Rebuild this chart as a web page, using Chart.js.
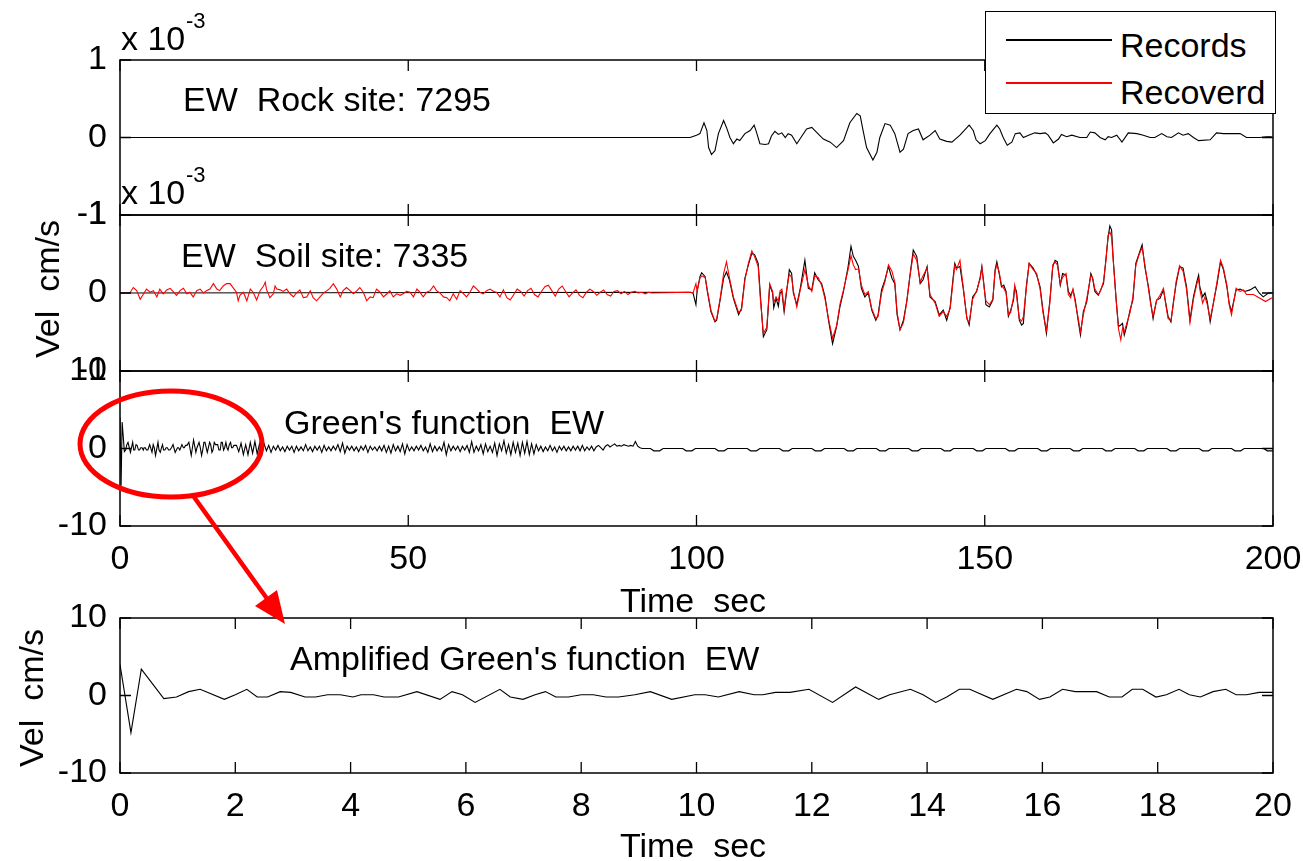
<!DOCTYPE html>
<html lang="en">
<head>
  <meta charset="UTF-8">
  <title>Green's function EW</title>
  <script src="https://cdn.jsdelivr.net/npm/chart.js"></script>
  <style>
    * { box-sizing: border-box; }
    body { margin: 0; background: #fff; width: 1303px; height: 861px; overflow: hidden; position: relative; font-family: 'Liberation Sans', Arial, sans-serif; color: #000; }
    canvas { position: absolute; left: 0; top: 0; }
    .txt { position: absolute; font-size: 34px; line-height: 1; white-space: pre; transform: translateY(-50%); }
    .sup { position: absolute; font-size: 22px; line-height: 1; white-space: pre; transform: translateY(-50%); }
    .rot { position: absolute; font-size: 34px; line-height: 1; white-space: pre; transform: translate(-50%, -50%) rotate(-90deg); }
    .ctr { position: absolute; font-size: 34px; line-height: 1; white-space: pre; transform: translate(-50%, -50%); }
    #legend { position: absolute; left: 985px; top: 11px; width: 291px; height: 103px; border: 1.5px solid #000; background: #fff; }
    #legend .swatch { position: absolute; left: 20px; width: 106px; height: 2px; }
    #legend .lab { position: absolute; left: 134px; font-size: 34px; line-height: 1; transform: translateY(-50%); }
    svg { position: absolute; left: 0; top: 0; }
  </style>
</head>
<body>
  <canvas id="p1" width="1303" height="861"></canvas>
  <canvas id="p2" width="1303" height="861"></canvas>
  <canvas id="p3" width="1303" height="861"></canvas>
  <canvas id="p4" width="1303" height="861"></canvas>

  <div class="txt" style="left:121px;top:38px">x 10</div><div class="sup" style="left:186px;top:21px">-3</div>
  <div class="txt" style="left:121px;top:192px">x 10</div><div class="sup" style="left:186px;top:175px">-3</div>
  <div class="txt" style="left:183px;top:99px">EW  Rock site: 7295</div>
  <div class="txt" style="left:181px;top:255px">EW  Soil site: 7335</div>
  <div class="txt" style="left:284px;top:422px">Green's function  EW</div>
  <div class="txt" style="left:290px;top:658px">Amplified Green's function  EW</div>
  <div class="rot" style="left:47px;top:289px">Vel  cm/s</div>
  <div class="rot" style="left:31px;top:698px">Vel  cm/s</div>
  <div class="ctr" style="left:693px;top:600px">Time  sec</div>
  <div class="ctr" style="left:693px;top:845px">Time  sec</div>
  <div id="legend"></div>

  <svg width="1303" height="861">
    <ellipse cx="171" cy="444" rx="91" ry="53" fill="none" stroke="#f00" stroke-width="5"/>
    <line x1="194" y1="497" x2="268" y2="600" stroke="#f00" stroke-width="4.5"/>
    <polygon points="285,624 255,606 277,590" fill="#f00"/>
  </svg>

  <script>
    // values: [time sec, velocity]
    // panel 1, rock site records (x 10^-3 cm/s)
    const rockRecords = [[0,0],[98.9,0],[100.0,0.03],[100.6,0.05],[101.3,0.19],[101.8,0.09],[102.1,-0.13],[102.6,-0.22],[103.2,-0.17],[103.8,0.05],[104.7,0.22],[105.2,0.13],[105.8,0.0],[106.4,-0.08],[107.0,-0.02],[107.5,-0.04],[108.4,0.05],[109.3,0.09],[110.0,0.16],[110.4,0.07],[111.0,-0.08],[111.9,-0.09],[112.5,-0.08],[113.0,0.02],[113.6,0.08],[114.2,0.04],[114.8,0.06],[115.4,0.0],[115.9,0.05],[116.5,0.03],[117.4,-0.08],[118.2,0.01],[119.1,0.11],[120.0,0.13],[120.8,0.07],[122.0,-0.02],[123.2,-0.06],[124.3,-0.13],[125.5,-0.04],[126.6,0.19],[127.8,0.31],[128.4,0.28],[128.9,0.09],[129.5,-0.13],[130.6,-0.29],[131.3,-0.19],[131.8,0.0],[132.7,0.18],[133.6,0.16],[134.4,0.05],[135.3,-0.19],[135.9,-0.15],[136.7,0.05],[137.6,0.09],[138.5,0.11],[139.3,-0.03],[140.5,0.03],[141.4,0.09],[142.2,-0.02],[143.4,-0.05],[144.3,-0.06],[145.7,0.03],[147.3,0.16],[148.0,0.09],[148.5,-0.03],
      [149.2,-0.08],[150.1,-0.04],[150.9,0.05],[152.1,0.16],[152.6,0.11],[153.2,0.0],[153.9,-0.1],[154.7,-0.06],[155.3,0.05],[156.1,0.06],[156.7,0.0],[157.6,0.03],[158.7,0.06],[159.6,0.05],[160.5,0.06],[161.0,0.03],[161.9,-0.07],[162.8,-0.02],[163.3,0.04],[164.2,0.01],[165.1,0.03],[166.5,0.0],[167.7,0.0],[168.3,0.07],[169.1,0.06],[170.0,0.0],[170.9,-0.03],[171.4,0.01],[172.0,0.0],[172.9,0.03],[173.8,-0.06],[174.9,0.06],[176.4,0.05],[177.5,0.03],[178.7,0.0],[179.5,0.0],[180.7,0.05],[181.6,0.01],[182.4,0.0],[183.6,0.06],[184.4,0.03],[185.3,0.05],[186.2,0.0],[187.1,-0.04],[189.1,-0.03],[190.2,0.06],[191.4,0.05],[194.3,0.05],[195.4,0.0],[197.7,0.0],[198.9,0.01],[199.8,0.01]];

    // panel 2, soil site records (x 10^-3 cm/s)
    const soilRecords = [[0,0],[98.9,0.01],[99.4,0],[99.9,-0.15],[100.1,0.02],[100.6,0.21],[100.9,0.26],[101.5,0.21],[101.9,0.01],[102.5,-0.24],[103.2,-0.37],[103.5,-0.35],[104.1,-0.09],[104.7,0.19],[105.2,0.27],[105.7,0.17],[106.4,-0.07],[107.3,-0.28],[107.8,-0.2],[108.4,0.19],[109.0,0.36],[109.6,0.51],[110.1,0.49],[110.7,0.38],[111.1,-0.05],[111.6,-0.56],[112.2,-0.47],[112.7,0.1],[113.2,0.0],[113.4,-0.19],[113.8,-0.07],[114.2,-0.17],[114.5,0.0],[114.8,0.02],[115.2,-0.24],[115.6,0.0],[116.1,0.3],[116.5,0.25],[116.8,0.0],[117.4,-0.15],[118.0,0.06],[118.8,0.42],[119.4,0.06],[120.0,0.04],[120.5,0.26],[121.1,0.17],[121.7,0.12],[122.3,-0.05],[122.9,-0.35],[123.6,-0.65],[124.3,-0.43],[124.9,-0.17],[125.5,0.02],[126.3,0.34],[126.8,0.6],[127.2,0.47],[127.6,0.42],[128.1,0.34],[128.6,0.06],[129.2,-0.05],[129.8,0.0],[130.4,-0.22],[131.1,-0.35],[131.5,-0.28],[132.1,0.04],[132.7,0.17],[133.3,0.34],[133.9,0.19],[134.4,0.12],[134.8,-0.28],[135.3,-0.47],[135.9,-0.35],[136.5,-0.09],[137.0,0.21],[137.6,0.55],[138.2,0.47],[138.8,0.12],[139.3,0.17],[140.0,0.34],[140.5,-0.05],[141.4,-0.11],[142.1,-0.28],[142.8,-0.22],[143.4,-0.35],[144.0,-0.18],[144.5,0.19],[144.8,0.38],[145.1,0.32],[145.7,0.34],[146.3,0.04],[146.9,-0.32],[147.3,-0.41],[147.9,-0.05],[148.6,0.02],[149.2,0.2],[149.5,0.34],[149.9,0.08],[150.2,-0.15],[150.8,-0.18],
      [151.4,-0.09],[151.8,0.3],[152.1,0.4],[152.5,0.25],[152.9,0.08],[153.3,0.1],[153.7,0.02],[154.1,-0.3],[154.5,-0.22],[155.0,-0.09],[155.2,0.08],[155.5,0.02],[156.0,-0.35],[156.4,-0.41],[156.7,-0.39],[157.2,0.08],[157.7,0.38],[158.4,0.32],[159.0,0.23],[159.6,0.08],[160.1,-0.22],[160.7,-0.52],[161.3,-0.09],[161.8,0.34],[162.2,0.42],[162.6,0.4],[163.1,0.1],[163.5,0.25],[164.1,0.23],[164.5,0.02],[164.9,-0.03],[165.3,0.04],[165.7,-0.09],[166.2,-0.35],[166.6,-0.54],[167.1,-0.24],[167.7,-0.11],[168.4,0.25],[168.7,0.19],[169.1,0.02],[169.7,-0.03],[170.1,0.04],[170.6,0.12],[171.0,0.42],[171.4,0.72],[171.7,0.86],[172.0,0.81],[172.3,0.42],[172.8,-0.09],[173.2,-0.43],[173.6,-0.41],[173.9,-0.39],[174.2,-0.54],[174.6,-0.43],[175.2,-0.22],[175.7,-0.09],[176.2,0.38],[176.8,0.51],[177.3,0.62],[177.8,0.32],[178.4,0.08],[178.8,-0.13],[179.2,-0.33],[179.8,-0.09],[180.4,-0.07],[181.0,0.04],[181.4,-0.13],[181.8,-0.3],[182.3,-0.37],[182.7,-0.13],[183.2,0.12],[183.8,0.34],[184.4,0.32],[185.0,0.08],[185.6,-0.35],[186.2,-0.05],[186.8,0.15],[187.1,0.23],[187.3,0.08],[187.8,-0.05],[188.2,0.0],[188.6,-0.11],[189.1,-0.37],[189.7,-0.11],[190.3,0.12],[190.9,0.4],[191.4,0.3],[192.0,0.08],[192.4,-0.13],[192.8,-0.24],[193.6,0.04],[194.3,0.05],[195.1,0.02],[196.0,0.04],[196.9,0.08],[197.6,0.0],[198.3,-0.05],[199.2,0.0],[199.8,0.0]];

    // panel 2, recovered soil motion (x 10^-3 cm/s)
    const soilRecovered = [[0,0],[1.7,0],[2.3,0.07],[2.9,0.03],[3.5,-0.08],[4.1,-0.01],[4.6,0.05],[5.2,0.01],[5.8,0.03],[6.4,-0.05],[6.9,0.05],[7.5,-0.01],[8.1,0.04],[8.7,0.06],[9.3,0.01],[9.8,-0.03],[10.4,0.03],[11.0,0.06],[11.6,-0.01],[12.1,0.01],[12.7,-0.05],[13.3,0.03],[13.9,0.05],[14.5,0.0],[15.0,0.03],[15.6,0.05],[16.2,0.12],[16.8,0.05],[17.3,0.03],[17.9,0.09],[18.5,0.12],[19.1,0.12],[19.7,0.06],[20.2,0.01],[20.5,-0.1],[20.8,-0.03],[21.4,0.01],[22.0,-0.1],[22.6,0.05],[23.1,0.01],[23.7,-0.09],[24.3,0.03],[24.9,0.09],[25.2,0.14],[25.4,0.05],[26.0,-0.06],[26.6,-0.01],[26.9,0.09],[27.2,0.05],[27.8,0.04],[28.3,0.02],[28.9,0.05],[29.5,-0.01],[30.1,-0.05],[30.6,0.0],[31.2,0.04],[31.8,-0.06],[32.4,-0.05],[33.0,0.03],[33.5,-0.06],[34.1,-0.1],[34.7,-0.05],[35.3,0.0],[35.9,0.03],[36.4,0.06],[37.0,0.12],[37.6,0.05],[38.2,-0.05],[38.7,0.03],[39.3,0.07],[39.9,0.03],[40.5,-0.01],[41.1,0.03],[41.6,0.07],[42.2,0.01],[42.8,-0.1],[43.4,-0.05],[43.9,-0.06],[44.5,0.05],[45.1,0.01],[45.7,-0.05],[46.3,-0.01],[46.8,0.03],[47.4,-0.05],[48.0,-0.01],[48.6,-0.03],[49.1,-0.01],[49.7,0.02],[50.3,0.01],[50.9,-0.05],[51.5,0.05],[52.0,0.01],[52.6,-0.05],[53.2,0.01],[53.8,0.03],[54.4,0.09],[54.9,0.03],[55.5,0.0],[56.1,-0.05],[56.7,-0.06],[57.2,-0.1],[57.8,-0.01],[58.4,-0.08],[59.0,0.03],[59.6,-0.01],[60.1,-0.05],[60.7,0.01],[61.3,0.09],[61.9,0.05],[62.4,0.01],[63.0,-0.01],[63.6,0.03],[64.2,0.05],[64.8,0.02],[65.3,0.01],[65.9,-0.05],
      [66.5,0.04],[67.1,-0.06],[67.7,-0.09],[68.3,-0.02],[68.9,0.05],[69.5,0.02],[70.1,-0.04],[70.7,0.03],[71.3,0.06],[71.9,-0.02],[72.5,-0.05],[73.1,0.02],[73.7,0.08],[74.3,0.1],[74.9,0.03],[75.5,-0.04],[76.1,0.05],[76.7,0.09],[77.3,0.02],[77.9,-0.05],[78.5,0.0],[79.1,0.04],[79.7,-0.03],[80.3,-0.06],[80.9,0.01],[81.5,0.05],[82.1,0.02],[82.7,-0.03],[83.3,0.01],[83.9,0.04],[84.5,-0.02],[85.1,-0.04],[85.7,0.02],[86.3,0.03],[86.9,-0.01],[87.5,0.02],[88.1,-0.02],[88.7,0.01],[89.3,0.02],[89.9,0.0],[90.5,0.01],[91.1,-0.01],[91.7,0.01],[92.3,0.0],
      [98.9,0.01],[99.4,0],[99.9,0.12],[100.1,0.02],[100.6,0.19],[100.9,0.22],[101.5,0.2],[101.9,0.03],[102.5,-0.22],[103.2,-0.36],[103.5,-0.33],[104.1,-0.07],[104.7,0.25],[105.2,0.4],[105.7,0.2],[106.4,-0.05],[107.3,-0.25],[107.8,-0.22],[108.4,0.17],[109.0,0.38],[109.6,0.54],[110.1,0.46],[110.7,0.34],[111.1,-0.1],[111.6,-0.52],[112.2,-0.44],[112.7,0.12],[113.2,0.02],[113.4,-0.12],[113.8,-0.05],[114.2,-0.1],[114.5,0.03],[114.8,0.05],[115.2,-0.2],[115.6,0.02],[116.1,0.24],[116.5,0.2],[116.8,0.03],[117.4,-0.18],[118.0,0.04],[118.8,0.3],[119.4,0.1],[120.0,0.02],[120.5,0.22],[121.1,0.2],[121.7,0.1],[122.3,-0.08],[122.9,-0.33],[123.6,-0.58],[124.3,-0.42],[124.9,-0.14],[125.5,0.04],[126.3,0.3],[126.8,0.48],[127.2,0.36],[127.6,0.3],[128.1,0.31],[128.6,0.1],[129.2,-0.02],[129.8,0.02],[130.4,-0.2],[131.1,-0.33],[131.5,-0.3],[132.1,0.0],[132.7,0.15],[133.3,0.36],[133.9,0.28],[134.4,0.14],[134.8,-0.25],[135.3,-0.47],[135.9,-0.38],[136.5,-0.1],[137.0,0.2],[137.6,0.5],[138.2,0.42],[138.8,0.14],[139.3,0.22],[140.0,0.32],[140.5,-0.02],[141.4,-0.13],[142.1,-0.3],[142.8,-0.24],[143.4,-0.3],[144.0,-0.2],[144.5,0.15],[144.8,0.35],[145.1,0.3],[145.7,0.42],[146.3,0.06],[146.9,-0.33],[147.3,-0.38],[147.9,-0.08],[148.6,0.03],[149.2,0.18],[149.5,0.33],[149.9,0.06],[150.2,-0.1],[150.8,-0.15],
      [151.4,-0.08],[151.8,0.28],[152.1,0.36],[152.5,0.27],[152.9,0.1],[153.3,0.06],[153.7,0.0],[154.1,-0.28],[154.5,-0.25],[155.0,-0.05],[155.2,0.1],[155.5,-0.02],[156.0,-0.33],[156.4,-0.36],[156.7,-0.3],[157.2,0.05],[157.7,0.38],[158.4,0.3],[159.0,0.25],[159.6,0.05],[160.1,-0.25],[160.7,-0.48],[161.3,-0.12],[161.8,0.36],[162.2,0.4],[162.6,0.36],[163.1,0.12],[163.5,0.2],[164.1,0.25],[164.5,-0.02],[164.9,-0.06],[165.3,0.05],[165.7,-0.12],[166.2,-0.32],[166.6,-0.5],[167.1,-0.28],[167.7,-0.07],[168.4,0.22],[168.7,0.2],[169.1,0.05],[169.7,-0.02],[170.1,0.03],[170.6,0.15],[171.0,0.4],[171.4,0.74],[171.7,0.78],[172.0,0.72],[172.3,0.4],[172.8,-0.1],[173.2,-0.46],[173.6,-0.6],[173.9,-0.45],[174.2,-0.5],[174.6,-0.4],[175.2,-0.25],[175.7,-0.05],[176.2,0.35],[176.8,0.5],[177.3,0.58],[177.8,0.35],[178.4,0.05],[178.8,-0.15],[179.2,-0.3],[179.8,-0.1],[180.4,-0.03],[181.0,0.06],[181.4,-0.15],[181.8,-0.33],[182.3,-0.35],[182.7,-0.15],[183.2,0.15],[183.8,0.35],[184.4,0.28],[185.0,0.05],[185.6,-0.38],[186.2,-0.08],[186.8,0.12],[187.1,0.18],[187.3,0.05],[187.8,-0.13],[188.2,-0.05],[188.6,-0.15],[189.1,-0.33],[189.7,-0.12],[190.3,0.15],[190.9,0.42],[191.4,0.32],[192.0,0.1],[192.4,-0.15],[192.8,-0.28],[193.6,0.06],[194.3,0.02],[194.9,0.04],[195.4,-0.02],[196.6,-0.02],[197.8,-0.07],[198.7,-0.11],[199.8,-0.06]];

    // panels 3 and 4, Green's function (cm/s)
    const greenFn = [[0,4.0],[0.19,-4.8],[0.37,3.4],[0.76,-0.4],[0.98,-0.2],[1.19,0.5],[1.39,0.8],[1.81,-0.5],[2.0,0.1],[2.2,0.8],[2.38,-0.2],[2.56,-0.2],[2.78,0.5],[2.96,0.4],[3.21,-0.2],[3.39,-0.2],[3.6,0.1],[3.82,0.1],[4.04,-0.2],[4.18,0.1],[4.4,0.1],[4.58,-0.2],[4.83,-0.2],[5.15,0.5],[5.55,-0.5],[5.76,0.5],[5.94,0.1],[6.16,-0.9],[6.59,0.8],[6.77,-0.2],[6.99,-0.5],[7.2,0.1],[7.38,0.5],[7.56,-0.2],[7.78,-0.2],[8.0,0.1],[8.21,0.1],[8.43,-0.2],[8.65,-0.2],[8.93,0.1],[9.2,0.5],[9.57,-0.5],[9.97,0.1],[10.15,0.1],[10.38,-0.2],[10.74,0.5],[11.0,0.1],[11.15,0.1],[11.37,0.4],[11.62,0.4],[11.95,0.8],[12.36,-0.9],[12.76,1.1],[13.16,-0.5],[13.35,0.1],[13.71,0.8],[13.93,0.1],[14.15,-0.9],[14.34,-0.2],[14.56,0.8],[14.74,0.8],[15.14,-0.5],[15.55,0.8],[15.73,0.5],[15.95,-0.5],[16.13,-0.2],[16.35,0.8],[16.57,0.5],[16.94,0.5],[17.16,-0.2],[17.38,-0.2],[17.56,0.8],[17.74,0.8],[17.97,-0.2],[18.15,0.1],[18.37,0.8],[18.55,0.1],[18.74,-0.2],[18.96,0.5],[19.18,0.8],[19.36,0.1],[19.54,0.1],[19.76,0.4],[19.98,0.4],
      [20.2,0.4],[20.6,-0.4],[21.0,0.7],[21.4,-0.8],[21.8,0.5],[22.2,-0.8],[22.6,0.8],[23.0,-0.6],[23.4,0.9],[23.8,-0.7],[24.2,0.6],[24.6,-0.8],[25.0,0.6],[25.4,-0.3],[25.8,0.4],[26.2,-0.5],[26.6,0.3],[27.0,-0.2],[27.4,0.4],[27.8,-0.3],[28.2,0.2],[28.6,-0.4],[29.0,0.3],[29.4,-0.2],[29.8,0.3],[30.2,-0.5],[30.6,0.3],[31.0,-0.3],[31.4,0.2],[31.8,-0.3],[32.2,0.5],[32.6,-0.3],[33.0,0.2],[33.4,-0.4],[33.8,0.3],[34.2,-0.2],[34.6,0.3],[35.0,-0.5],[35.4,0.4],[35.8,-0.3],[36.2,0.2],[36.6,-0.3],[37.0,0.3],[37.4,-0.2],[37.8,0.5],[38.2,-0.4],[38.6,0.7],[39.0,-0.6],[39.4,0.3],[39.8,-0.2],[40.2,0.3],[40.6,-0.3],[41.0,0.2],[41.4,-0.4],[41.8,0.3],[42.2,-0.2],[42.6,0.4],[43.0,-0.5],[43.4,0.3],[43.8,-0.2],[44.2,0.2],[44.6,-0.3],[45.0,0.3],[45.4,-0.3],[45.8,0.4],[46.2,-0.5],[46.6,0.3],[47.0,-0.6],[47.4,0.5],[47.8,-0.3],[48.2,0.3],[48.6,-0.4],[49.0,0.6],[49.4,-0.7],[49.8,0.5],[50.2,-0.3],[50.6,0.2],[51.0,-0.3],[51.4,0.3],[51.8,-0.2],[52.2,0.4],[52.6,-0.3],[53.0,0.2],[53.4,-0.5],[53.8,0.6],[54.2,-0.4],[54.6,0.3],[55.0,-0.3],[55.4,0.2],[55.8,-0.3],[56.2,0.8],[56.6,-0.8],[57.0,0.5],[57.4,-0.3],[57.8,0.3],[58.2,-0.2],[58.6,0.3],[59.0,-0.4],[59.4,0.3],[59.8,-0.2],
      [60.2,0.4],[60.6,-0.5],[61.0,0.9],[61.4,-0.5],[61.8,0.3],[62.2,-0.3],[62.6,0.5],[63.0,-0.7],[63.4,0.6],[63.8,-0.4],[64.2,0.3],[64.6,-0.5],[65.0,0.7],[65.4,-0.9],[65.8,0.6],[66.2,-0.3],[66.6,1.0],[67.0,-0.6],[67.4,0.5],[67.8,-0.8],[68.2,0.8],[68.6,-0.5],[69.0,0.7],[69.4,-0.9],[69.8,0.8],[70.2,-0.6],[70.6,0.9],[71.0,-0.8],[71.4,0.6],[71.8,-0.7],[72.2,0.5],[72.6,-0.3],[73.0,0.3],[73.4,-0.4],[73.8,0.2],[74.2,-0.3],[74.6,0.4],[75.0,-0.3],[75.4,0.2],[75.8,-0.5],[76.2,0.3],[76.6,-0.2],[77.0,0.3],[77.4,-0.3],[77.8,0.2],[78.2,-0.3],[78.6,0.3],[79.0,-0.2],[79.4,0.3],[79.8,-0.3],[80.2,0.4],[80.6,-0.3],[81.0,0.2],[81.4,-0.2],[81.8,0.3],[82.2,-0.3],[82.6,0.2],[83.0,0.4],[83.4,0.1],[83.8,-0.2],[84.2,0.3],[84.6,0.5],[85.0,0.2],[85.4,0.4],[85.8,0.6],[86.2,0.3],[86.6,0.4],[87.0,0.3],[87.4,0.5],[87.8,0.4],[88.2,0.3],[88.6,0.4],[89.0,0.3],[89.4,0.9],[89.8,0.3],[90.2,0.1],
      [90.6,0],[92.0,0],[92.6,-0.3],[93.6,-0.3],[94.2,0],[97.6,0],[98.2,-0.3],[99.2,-0.3],[99.8,0],[103.2,0],[103.8,-0.3],[104.8,-0.3],[105.4,0],[108.8,0],[109.4,-0.3],[110.4,-0.3],[111.0,0],[114.4,0],[115.0,-0.3],[116.0,-0.3],[116.6,0],[120.0,0],[120.6,-0.3],[121.6,-0.3],[122.2,0],[125.6,0],[126.2,-0.3],[127.2,-0.3],[127.8,0],[131.2,0],[131.8,-0.3],[132.8,-0.3],[133.4,0],[136.8,0],[137.4,-0.3],[138.4,-0.3],[139.0,0],[142.4,0],[143.0,-0.3],[144.0,-0.3],[144.6,0],[148.0,0],[148.6,-0.3],[149.6,-0.3],[150.2,0],[153.6,0],[154.2,-0.3],[155.2,-0.3],[155.8,0],[159.2,0],[159.8,-0.3],[160.8,-0.3],[161.4,0],[164.8,0],[165.4,-0.3],[166.4,-0.3],[167.0,0],[170.4,0],[171.0,-0.3],[172.0,-0.3],[172.6,0],[176.0,0],[176.6,-0.3],[177.6,-0.3],[178.2,0],[181.6,0],[182.2,-0.3],[183.2,-0.3],[183.8,0],[187.2,0],[187.8,-0.3],[188.8,-0.3],[189.4,0],[192.8,0],[193.4,-0.3],[194.4,-0.3],[195.0,0],[198.4,0],[199.0,-0.3],[200,-0.3]];

    const legendItems = ['Records', 'Recoverd'];
    const legendColors = ['#000000', '#ff0000'];

    const FONT = { family: "'Liberation Sans', Arial, sans-serif", size: 34 };
    const toXY = arr => arr.map(p => ({ x: p[0], y: p[1] }));

    // MATLAB-style box with inward tick marks on all four sides
    const frameTicks = {
      id: 'frameTicks',
      afterDraw(chart) {
        const { ctx, chartArea: a, scales: { x, y } } = chart;
        const L = 11;
        ctx.save();
        ctx.strokeStyle = '#000';
        ctx.lineWidth = 1.5;
        ctx.strokeRect(a.left, a.top, a.right - a.left, a.bottom - a.top);
        ctx.lineWidth = 1.3;
        ctx.beginPath();
        x.ticks.forEach(t => {
          const px = x.getPixelForValue(t.value);
          ctx.moveTo(px, a.bottom); ctx.lineTo(px, a.bottom - L);
          ctx.moveTo(px, a.top); ctx.lineTo(px, a.top + L);
        });
        y.ticks.forEach(t => {
          const py = y.getPixelForValue(t.value);
          ctx.moveTo(a.left, py); ctx.lineTo(a.left + L, py);
          ctx.moveTo(a.right, py); ctx.lineTo(a.right - L, py);
        });
        ctx.stroke();
        ctx.restore();
      }
    };

    function makePanel(id, top, bottom, xMax, xStep, yMax, showX, datasets) {
      return new Chart(document.getElementById(id), {
        type: 'line',
        data: { datasets },
        options: {
          responsive: false, animation: false, events: [],
          layout: { padding: { left: 0, right: 1303 - 1273, top: top, bottom: 0 } },
          plugins: { legend: { display: false }, tooltip: { enabled: false } },
          elements: { point: { radius: 0 }, line: { borderWidth: 1.1, tension: 0 } },
          scales: {
            x: {
              type: 'linear', min: 0, max: xMax,
              ticks: { stepSize: xStep, display: showX, font: FONT, color: '#000', padding: 5, maxRotation: 0, autoSkip: false },
              grid: { display: false }, border: { display: false },
              afterFit: s => { s.height = 861 - bottom; s.paddingLeft = 0; s.paddingRight = 0; }
            },
            y: {
              type: 'linear', min: -yMax, max: yMax,
              ticks: { stepSize: yMax, font: FONT, color: '#000', padding: 5 },
              grid: { display: false }, border: { display: false },
              afterFit: s => { s.width = 120; s.paddingTop = 0; s.paddingBottom = 0; }
            }
          }
        },
        plugins: [frameTicks]
      });
    }

    makePanel('p1', 60, 215, 200, 50, 1, false, [
      { label: legendItems[0], data: toXY(rockRecords), borderColor: legendColors[0] }
    ]);
    makePanel('p2', 215, 371, 200, 50, 1, false, [
      { label: legendItems[1], data: toXY(soilRecovered), borderColor: legendColors[1], order: 0 },
      { label: legendItems[0], data: toXY(soilRecords), borderColor: legendColors[0], order: 1 }
    ]);
    makePanel('p3', 371, 526, 200, 50, 10, true, [
      { label: 'Green', data: toXY(greenFn), borderColor: '#000' }
    ]);
    makePanel('p4', 618, 773, 20, 2, 10, true, [
      { label: 'Amplified', data: toXY(greenFn), borderColor: '#000' }
    ]);

    // legend box
    const legend = document.getElementById('legend');
    const rowY = [27, 70], labY = [33, 80];
    legendItems.forEach((name, i) => {
      legend.insertAdjacentHTML('beforeend',
        `<div class="swatch" style="top:${rowY[i]}px;background:${legendColors[i]}"></div>` +
        `<div class="lab" style="top:${labY[i]}px">${name}</div>`);
    });
  </script>
</body>
</html>
